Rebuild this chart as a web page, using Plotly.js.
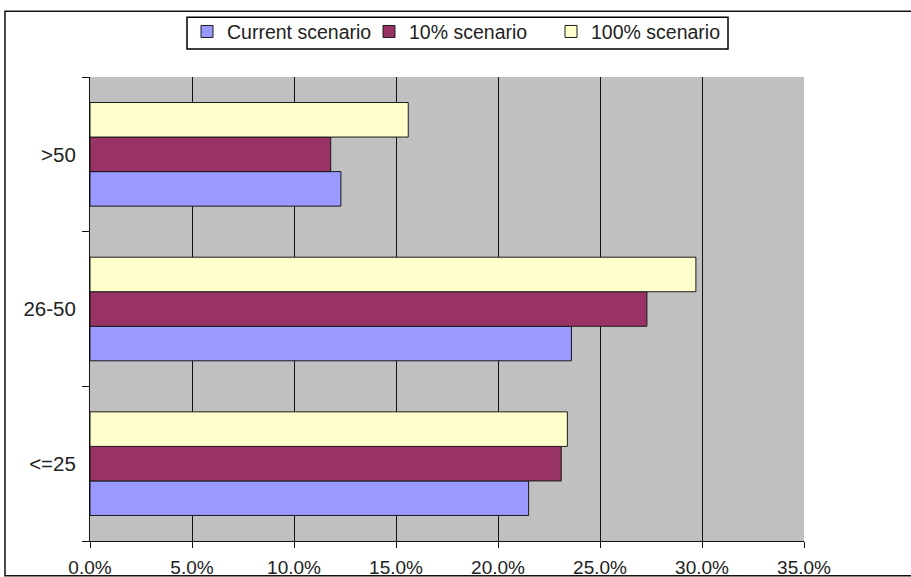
<!DOCTYPE html>
<html>
<head>
<meta charset="utf-8">
<script src="https://cdn.plot.ly/plotly-3.0.1.min.js"></script>
<style>html,body{margin:0;padding:0;background:#fff;}#chart{width:911px;height:577px;}</style>
</head>
<body>
<div id="chart"></div>
<script>
// Categories (bottom to top)
const categories = ['<=25', '26-50', '>50'];
// Series values (fractions)
const currentScenario = [0.215, 0.236, 0.123];
const tenPctScenario = [0.231, 0.273, 0.118];
const hundredPctScenario = [0.234, 0.297, 0.156];
const seriesNames = ['Current scenario', '10% scenario', '100% scenario'];
const xTickVals = [0, 0.05, 0.10, 0.15, 0.20, 0.25, 0.30, 0.35];

const colors = ['#9999FF', '#993366', '#FFFFCC'];
const seriesVals = [currentScenario, tenPctScenario, hundredPctScenario];
const FONT = 'Liberation Sans, Arial, sans-serif';

const traces = seriesVals.map((vals, i) => ({
  type: 'bar',
  orientation: 'h',
  name: seriesNames[i],
  y: categories,
  x: vals,
  marker: {color: colors[i], line: {color: '#1a1a1a', width: 1}},
  hoverinfo: 'x+y+name'
}));

const L = 90, R = 804, T = 75, B = 541, W = 911, H = 577;
const px = v => (v - L) / (R - L);
const py = v => (B - v) / (B - T);

const layout = {
  width: W, height: H,
  margin: {l: L, r: W - R, t: T, b: H - B, pad: 0},
  paper_bgcolor: '#ffffff',
  plot_bgcolor: '#C0C0C0',
  font: {family: FONT, size: 19, color: '#222'},
  barmode: 'group',
  bargap: 0.33,
  bargroupgap: 0,
  showlegend: true,
  legend: {
    orientation: 'h',
    x: px(187), xanchor: 'left',
    y: py(10), yanchor: 'top',
    bgcolor: 'rgba(0,0,0,0)',
    borderwidth: 0,
    entrywidth: 137,
    entrywidthmode: 'pixels',
    font: {family: FONT, size: 19.5, color: '#222'},
    traceorder: 'normal'
  },
  xaxis: {
    range: [0, 0.35],
    tickvals: xTickVals,
    tickformat: '.1%',
    showgrid: true,
    gridcolor: '#111',
    gridwidth: 1,
    zeroline: false,
    showline: true,
    linecolor: '#111',
    linewidth: 1,
    ticks: 'outside',
    ticklen: 6,
    tickcolor: '#111',
    ticklabelstandoff: 3,
    tickfont: {family: FONT, size: 19, color: '#222'},
    fixedrange: true
  },
  yaxis: {
    type: 'category',
    categoryorder: 'array',
    categoryarray: categories,
    tickson: 'boundaries',
    ticks: 'outside',
    ticklen: 7,
    tickcolor: '#111',
    showgrid: false,
    zeroline: false,
    showline: true,
    linecolor: '#111',
    linewidth: 1,
    ticklabelstandoff: 9,
    tickfont: {family: FONT, size: 20.5, color: '#222'},
    fixedrange: true
  },
  shapes: [{
    type: 'rect', xref: 'paper', yref: 'paper',
    x0: px(5), x1: px(920), y0: py(576), y1: py(9),
    line: {color: '#111', width: 1.5},
    fillcolor: 'rgba(0,0,0,0)',
    layer: 'above'
  }, {
    type: 'rect', xref: 'paper', yref: 'paper',
    x0: px(187), x1: px(728), y0: py(47), y1: py(15),
    line: {color: '#000', width: 1.5},
    fillcolor: '#ffffff',
    layer: 'above'
  }]
};

Plotly.newPlot('chart', traces, layout, {displayModeBar: false, staticPlot: true});
</script>
</body>
</html>
